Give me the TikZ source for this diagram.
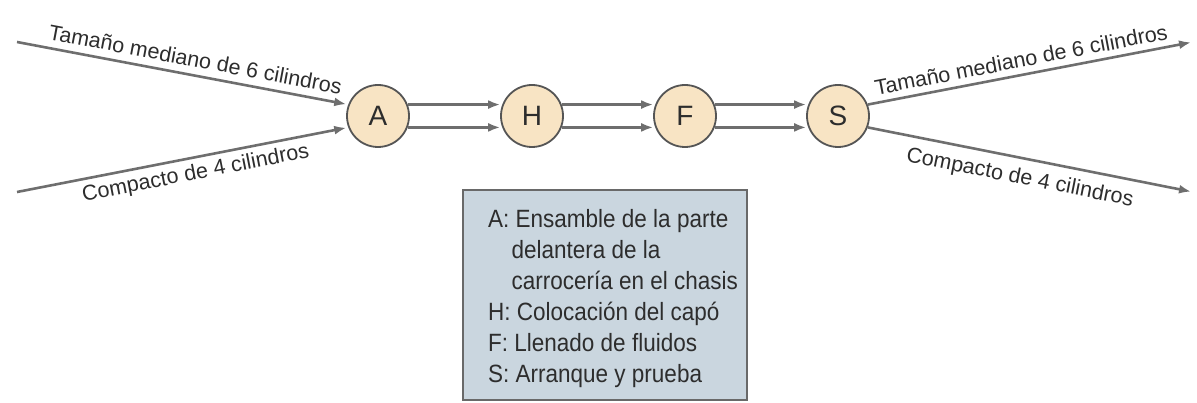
\documentclass[tikz,border=0pt]{standalone}
\usepackage{fontspec}
\setmainfont{Liberation Sans}
\usetikzlibrary{arrows.meta}
\definecolor{nodefill}{RGB}{248,228,196}
\definecolor{nodeline}{RGB}{85,85,85}
\definecolor{arrowgrey}{RGB}{110,110,110}
\definecolor{boxfill}{RGB}{202,214,223}
\definecolor{boxline}{RGB}{105,105,105}
\definecolor{textgrey}{RGB}{45,45,45}
\begin{document}
\begin{tikzpicture}[x=1pt,y=-1pt,
  station/.style={circle,draw=nodeline,line width=1.8pt,fill=nodefill,minimum size=62pt,inner sep=0pt,
    font=\fontsize{28}{30}\selectfont,text=textgrey},
  flow/.style={draw=arrowgrey,line width=2.6pt,-{Latex[length=12pt,width=9pt]},shorten >=2pt},
  lbl/.style={font=\fontsize{21.5}{24}\selectfont,text=textgrey,sloped,inner sep=2pt},
  legend/.style={draw=boxline,line width=2.5pt,fill=boxfill,minimum width=284pt,minimum height=210pt,inner sep=0pt},
  legendtext/.style={font=\fontsize{25}{31}\selectfont,text=textgrey,align=left,inner sep=0pt,xscale=0.9,anchor=north west}
]
\useasboundingbox (0,0) rectangle (1197,403);
\node[station] (A) at (378,116) {A};
\node[station] (H) at (532,116) {H};
\node[station] (F) at (685,116) {F};
\node[station] (S) at (838,116) {S};

\coordinate (inA1) at (17,42);
\coordinate (inA2) at (17,192);
\coordinate (outS1) at (1193,42);
\coordinate (outS2) at (1193,192);

\draw[flow] (inA1) -- (A.159) node[lbl,pos=0.53,above=5pt] {Tamaño mediano de 6 cilindros};
\draw[flow] (inA2) -- (A.201) node[lbl,pos=0.53,below=3pt] {Compacto de 4 cilindros};

\foreach \u/\v in {A/H,H/F,F/S}{
  \draw[flow] (\u.21) -- (\v.159);
  \draw[flow] (\u.-21) -- (\v.201);
}

\draw[flow] (S.21) -- (outS1) node[lbl,pos=0.48,above=4pt] {Tamaño mediano de 6 cilindros};
\draw[flow] (S.-21) -- (outS2) node[lbl,pos=0.48,below=7pt] {Compacto de 4 cilindros};

\node[legend] (box) at (605,295) {};
\node[legendtext] (legtxt) at (488,209) {A: Ensamble de la parte\\
\hspace*{26pt}delantera de la\\
\hspace*{26pt}carrocería en el chasis\\
H: Colocación del capó\\
F: Llenado de fluidos\\
S: Arranque y prueba};
\end{tikzpicture}
\end{document}
